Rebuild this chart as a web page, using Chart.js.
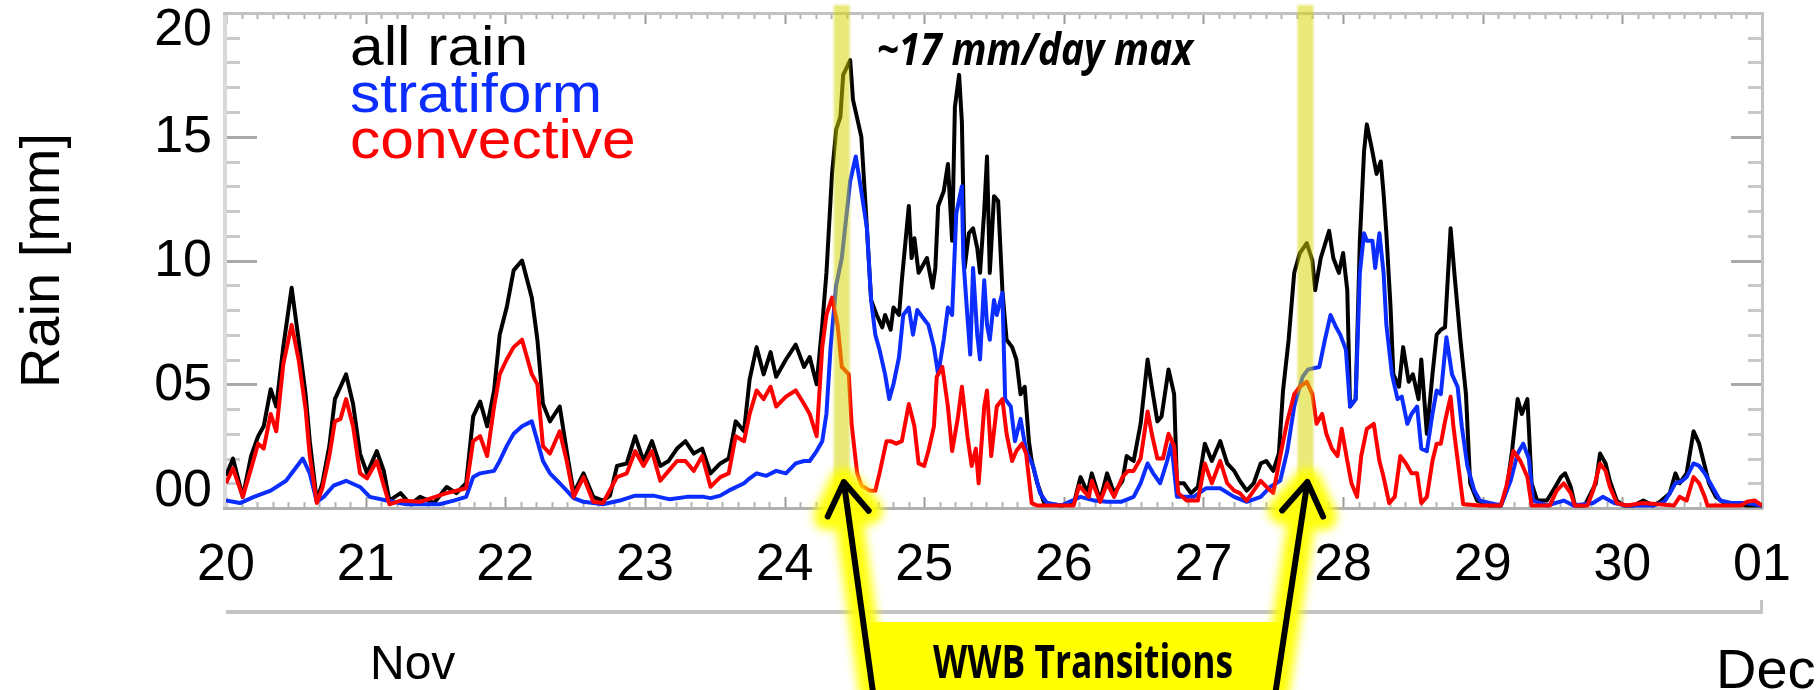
<!DOCTYPE html>
<html>
<head>
<meta charset="utf-8">
<title>Rain rate, Nov 20 – Dec 01</title>
<script src="https://cdn.jsdelivr.net/npm/chart.js@4.4.1/dist/chart.umd.min.js"></script>
<style>
  html, body { margin: 0; padding: 0; background: #ffffff; overflow: hidden; }
  canvas { display: block; }
</style>
</head>
<body>
<canvas id="rain" width="1818" height="690"></canvas>
<script>
// Time axis is day of November (31 = Dec 01); rain in mm.
const allRainDay = [20.00,20.05,20.12,20.18,20.23,20.27,20.32,20.36,20.41,20.47,20.52,20.57,20.60,20.65,20.69,20.74,20.78,20.82,20.86,20.91,20.96,21.01,21.08,21.13,21.17,21.25,21.32,21.39,21.49,21.58,21.65,21.72,21.77,21.82,21.87,21.92,21.96,22.01,22.06,22.12,22.19,22.23,22.27,22.32,22.39,22.44,22.49,22.56,22.63,22.70,22.75,22.80,22.87,22.93,22.99,23.05,23.11,23.17,23.23,23.29,23.35,23.41,23.47,23.54,23.60,23.65,23.71,23.75,23.80,23.85,23.90,23.94,24.01,24.08,24.14,24.18,24.23,24.27,24.30,24.34,24.37,24.40,24.42,24.47,24.49,24.53,24.55,24.59,24.62,24.66,24.70,24.72,24.76,24.78,24.82,24.84,24.89,24.91,24.93,24.96,24.98,25.02,25.06,25.08,25.10,25.14,25.17,25.20,25.22,25.25,25.27,25.29,25.32,25.35,25.38,25.40,25.43,25.45,25.47,25.50,25.53,25.56,25.59,25.63,25.66,25.69,25.72,25.75,25.77,25.81,25.86,25.98,26.07,26.12,26.17,26.20,26.26,26.31,26.36,26.42,26.45,26.50,26.55,26.60,26.63,26.67,26.70,26.75,26.79,26.81,26.86,26.91,26.96,27.01,27.06,27.12,27.17,27.22,27.26,27.31,27.36,27.41,27.45,27.50,27.54,27.57,27.61,27.65,27.69,27.74,27.78,27.80,27.84,27.90,27.93,27.97,28.00,28.03,28.05,28.09,28.12,28.15,28.17,28.21,28.24,28.27,28.29,28.31,28.34,28.36,28.40,28.43,28.47,28.50,28.54,28.56,28.60,28.64,28.67,28.70,28.73,28.77,28.80,28.84,28.88,28.91,28.96,29.05,29.13,29.17,29.21,29.25,29.28,29.32,29.35,29.39,29.46,29.52,29.56,29.59,29.63,29.66,29.73,29.81,29.84,29.88,29.91,29.96,30.01,30.08,30.15,30.22,30.27,30.34,30.38,30.41,30.46,30.51,30.55,30.59,30.62,30.67,30.73,30.80,30.89,31.00];
const allRainMm = [1.3,2.0,0.45,2.1,2.9,3.3,4.8,4.1,6.5,8.9,6.8,4.6,2.7,0.3,1.0,2.5,4.4,4.9,5.4,4.2,2.2,1.4,2.3,1.5,0.3,0.6,0.15,0.45,0.2,0.85,0.6,1.0,3.7,4.3,3.3,4.75,7.0,8.1,9.6,10.0,8.5,6.8,4.2,3.5,4.1,2.3,0.6,1.4,0.45,0.3,0.5,1.7,1.8,2.9,1.9,2.7,1.7,1.9,2.4,2.7,2.2,2.4,1.4,1.8,2.0,3.5,3.1,5.2,6.5,5.4,6.3,5.3,6.0,6.6,5.7,6.1,5.0,7.4,9.5,13.5,15.3,15.8,17.5,18.1,16.5,15.5,15.0,11.3,8.4,7.8,7.3,7.8,7.2,8.1,7.8,9.2,12.2,10.1,10.9,9.5,9.7,10.1,8.9,9.7,12.2,12.8,13.9,10.8,16.2,17.5,15.6,9.7,11.1,11.3,10.5,9.5,12.0,14.2,9.5,12.6,12.4,8.8,6.8,6.5,6.0,4.6,4.9,2.7,1.9,1.0,0.2,0.1,0.15,1.25,0.6,1.4,0.3,1.4,0.6,1.1,2.1,1.9,3.4,6.0,4.9,3.5,3.7,5.6,4.6,1.0,1.0,0.6,0.85,2.6,1.9,2.7,1.8,1.5,1.1,0.7,1.0,1.8,1.9,1.5,2.2,4.75,6.8,9.5,10.3,10.7,10.0,8.8,10.1,11.2,10.1,9.5,10.3,8.8,4.1,4.4,10.8,14.4,15.5,14.4,13.5,14.0,12.7,11.1,8.1,5.4,4.9,6.5,5.1,5.4,4.4,6.0,3.0,5.4,7.0,7.2,7.3,11.3,9.3,6.8,4.6,1.0,0.3,0.1,0.1,0.7,2.3,4.4,3.8,4.4,1.0,0.3,0.3,0.86,1.25,1.4,0.86,0.1,0.1,1.0,2.2,1.8,1.1,0.3,0.1,0.1,0.3,0.1,0.25,0.6,1.4,1.0,1.4,3.1,2.6,1.7,1.0,0.45,0.2,0.2,0.1,0.1];

const stratiformDay = [20.00,20.10,20.20,20.32,20.43,20.55,20.60,20.65,20.70,20.77,20.86,20.96,21.03,21.15,21.29,21.53,21.63,21.72,21.77,21.82,21.92,21.96,22.01,22.06,22.12,22.19,22.27,22.32,22.39,22.44,22.49,22.56,22.70,22.82,22.93,23.06,23.18,23.30,23.42,23.47,23.54,23.60,23.71,23.75,23.80,23.87,23.94,24.01,24.08,24.14,24.18,24.23,24.27,24.30,24.33,24.37,24.41,24.47,24.51,24.55,24.59,24.62,24.65,24.68,24.72,24.75,24.78,24.82,24.85,24.89,24.92,24.95,24.99,25.03,25.07,25.10,25.14,25.17,25.20,25.23,25.27,25.28,25.31,25.33,25.35,25.38,25.40,25.43,25.45,25.47,25.50,25.52,25.56,25.58,25.62,25.65,25.69,25.73,25.78,25.83,25.88,25.98,26.12,26.22,26.31,26.41,26.50,26.55,26.60,26.64,26.69,26.74,26.77,26.81,26.93,27.02,27.12,27.22,27.31,27.41,27.48,27.55,27.60,27.65,27.71,27.75,27.83,27.87,27.91,27.95,27.98,28.02,28.05,28.09,28.12,28.15,28.17,28.21,28.23,28.26,28.29,28.31,28.35,28.39,28.42,28.46,28.49,28.53,28.56,28.60,28.64,28.67,28.70,28.74,28.78,28.82,28.85,28.89,28.94,28.98,29.05,29.13,29.20,29.25,29.29,29.33,29.36,29.46,29.58,29.65,29.79,29.86,29.94,30.03,30.22,30.30,30.34,30.38,30.43,30.46,30.51,30.55,30.59,30.62,30.66,30.70,30.78,30.89,31.00];
const stratiformMm = [0.3,0.2,0.45,0.7,1.1,2.0,1.4,0.25,0.45,0.9,1.1,0.85,0.45,0.3,0.15,0.15,0.3,0.45,1.25,1.4,1.5,1.9,2.5,3.0,3.3,3.5,1.9,1.4,1.0,0.7,0.4,0.25,0.15,0.3,0.5,0.5,0.35,0.45,0.45,0.4,0.5,0.7,1.0,1.2,1.4,1.3,1.5,1.4,1.8,1.9,1.9,2.3,2.7,3.8,6.5,9.0,10.1,13.2,14.2,12.8,11.3,8.4,7.0,6.4,5.4,4.4,5.0,6.1,7.8,8.1,7.0,8.0,7.7,7.4,6.5,5.4,6.8,8.1,7.8,11.9,13.0,10.1,7.7,6.2,9.7,7.0,6.0,9.2,7.4,6.8,8.4,7.8,8.7,4.4,4.1,2.7,3.6,2.3,1.7,0.6,0.2,0.1,0.45,0.3,0.25,0.25,0.45,1.0,1.8,1.4,1.0,1.9,2.6,0.45,0.45,0.8,0.8,0.45,0.25,0.45,0.86,1.1,2.3,4.1,5.3,5.6,5.7,6.8,7.8,7.3,7.0,6.4,4.1,4.4,9.5,11.1,10.8,10.8,9.7,11.1,9.5,7.4,5.4,4.4,4.5,3.4,3.8,4.1,2.4,2.3,3.8,4.75,4.6,6.9,5.4,4.9,3.3,1.7,0.7,0.3,0.2,0.1,1.1,2.2,2.6,2.0,0.3,0.1,0.3,0.1,0.2,0.45,0.2,0.1,0.1,0.25,0.6,1.0,1.1,1.25,1.8,1.7,1.4,1.1,0.7,0.3,0.2,0.2,0.1];

const convectiveDay = [20.00,20.05,20.12,20.18,20.23,20.27,20.32,20.36,20.41,20.47,20.52,20.57,20.60,20.65,20.69,20.74,20.78,20.82,20.86,20.91,20.96,21.01,21.08,21.13,21.17,21.25,21.39,21.58,21.72,21.77,21.82,21.87,21.92,21.96,22.01,22.06,22.12,22.19,22.23,22.27,22.32,22.39,22.44,22.49,22.56,22.63,22.70,22.80,22.87,22.93,22.99,23.05,23.11,23.17,23.23,23.29,23.35,23.41,23.47,23.54,23.60,23.65,23.71,23.75,23.80,23.85,23.90,23.94,24.01,24.08,24.14,24.18,24.23,24.27,24.30,24.34,24.38,24.41,24.46,24.48,24.52,24.55,24.61,24.65,24.68,24.73,24.76,24.80,24.84,24.89,24.93,24.96,25.00,25.03,25.07,25.09,25.13,25.17,25.20,25.24,25.27,25.31,25.34,25.37,25.39,25.43,25.45,25.48,25.52,25.56,25.59,25.63,25.66,25.70,25.73,25.77,25.81,26.07,26.11,26.18,26.20,26.26,26.31,26.36,26.42,26.46,26.50,26.55,26.60,26.63,26.67,26.71,26.75,26.79,26.82,26.88,26.96,27.01,27.06,27.12,27.17,27.22,27.26,27.31,27.36,27.41,27.45,27.50,27.55,27.60,27.65,27.69,27.74,27.78,27.81,27.85,27.88,27.92,27.96,27.99,28.03,28.06,28.10,28.13,28.17,28.22,28.26,28.29,28.33,28.37,28.41,28.45,28.49,28.53,28.56,28.60,28.64,28.67,28.70,28.73,28.77,28.79,28.83,28.86,28.98,29.13,29.17,29.22,29.27,29.32,29.35,29.48,29.53,29.58,29.63,29.66,29.75,29.79,29.84,29.88,29.91,29.96,30.03,30.15,30.37,30.41,30.46,30.51,30.55,30.59,30.61,30.85,30.89,30.95,31.00];
const convectiveMm = [1.0,1.6,0.45,1.6,2.6,2.4,3.8,3.1,5.8,7.4,6.0,4.0,2.1,0.2,0.8,2.1,3.5,3.6,4.4,3.3,1.4,1.2,1.9,0.9,0.15,0.3,0.25,0.6,0.8,2.7,2.9,2.1,4.1,5.4,6.0,6.5,6.8,5.4,5.0,2.5,2.2,3.1,1.9,0.45,1.25,0.25,0.2,1.25,1.4,2.3,1.7,2.3,1.1,1.5,1.9,1.9,1.5,2.1,0.86,1.25,1.4,2.9,2.7,3.8,4.75,4.4,4.9,4.1,4.5,4.75,4.2,3.8,2.9,6.5,7.8,8.5,7.4,5.7,5.4,3.4,1.4,0.9,0.7,0.7,1.4,2.7,2.7,2.6,2.7,4.2,3.3,1.8,1.7,2.3,3.3,5.3,5.7,4.1,2.3,3.6,4.9,2.9,1.7,2.4,1.0,4.1,4.75,2.1,4.1,4.4,3.0,1.9,2.3,2.6,2.2,0.2,0.1,0.1,0.9,0.45,1.1,0.25,1.0,0.45,1.25,1.5,1.5,2.0,3.9,3.0,2.0,2.0,3.0,2.5,0.6,0.3,0.3,1.8,1.0,1.9,1.0,0.7,0.6,0.3,0.7,1.1,0.86,0.6,2.1,3.5,4.6,4.9,5.1,4.6,3.4,3.8,3.0,2.4,2.1,3.2,1.9,1.0,0.45,2.1,3.2,3.4,1.9,1.25,0.2,0.45,2.1,1.8,1.4,1.4,0.2,0.45,1.9,2.6,2.6,3.5,4.5,3.3,1.5,0.15,0.1,0.1,0.9,2.3,1.9,1.25,0.1,0.1,0.7,1.0,0.6,0.1,0.1,0.7,1.8,1.5,0.86,0.2,0.1,0.2,0.1,0.45,0.3,1.25,1.0,0.45,0.1,0.1,0.25,0.3,0.1];

const seriesNames  = ['all rain', 'stratiform', 'convective'];
const seriesColors = ['#000000', '#0b2dff', '#ff0000'];

const dayTicks  = [20, 21, 22, 23, 24, 25, 26, 27, 28, 29, 30, 31];
const dayLabels = ['20', '21', '22', '23', '24', '25', '26', '27', '28', '29', '30', '01'];
const rainTicks  = [0, 5, 10, 15, 20];
const rainLabels = ['00', '05', '10', '15', '20'];

// Westerly wind burst transition times (day of November)
const transitionDays = [24.41, 27.73];
// where each arrow's shaft leaves the bottom of the page
const transitionArrowTailDays = [24.635, 27.514];

const maxNoteText = '~17 mm/day max';
const boxText = 'WWB Transitions';

const SANS = '"Liberation Sans", Arial, Helvetica, sans-serif';

function toPoints(days, mm) {
  return days.map((d, i) => ({ x: d, y: mm[i] }));
}

// Fill text stretched or squeezed horizontally by a factor
function stretchText(ctx, text, x, y, sx) {
  ctx.save();
  ctx.translate(x, y);
  ctx.scale(sx, 1);
  ctx.fillText(text, 0, 0);
  ctx.restore();
}

// Fill text so that it spans an exact width
function fitText(ctx, text, x, y, width) {
  stretchText(ctx, text, x, y, width / ctx.measureText(text).width);
}

const framePlugin = {
  id: 'frame',
  beforeDatasetsDraw(chart) {
    const { ctx, chartArea: ca, scales: { x: xs, y: ys } } = chart;
    ctx.save();
    ctx.lineCap = 'butt';

    // y ticks on both sides: every 1 mm, longer every 5 mm
    for (let v = 0; v <= 20; v++) {
      const py = Math.round(ys.getPixelForValue(v)) + 0.5;
      const major = v % 5 === 0;
      const len = major ? 31 : 14;
      ctx.strokeStyle = major ? '#a9a9a9' : '#c9c9c9';
      ctx.lineWidth = 3;
      ctx.beginPath();
      ctx.moveTo(ca.left, py); ctx.lineTo(ca.left + len, py);
      ctx.moveTo(ca.right - len, py); ctx.lineTo(ca.right, py);
      ctx.stroke();
    }
    // x ticks on top and bottom: day marks with 9 subdivisions
    for (let d = dayTicks[0]; d <= dayTicks[dayTicks.length - 1]; d++) {
      for (let k = 0; k < 9; k++) {
        const t = d + k / 9;
        if (t > dayTicks[dayTicks.length - 1]) break;
        const px = Math.round(xs.getPixelForValue(t)) + 0.5;
        const len = k === 0 ? 11 : 6;
        ctx.strokeStyle = k === 0 ? '#9c9c9c' : '#b4b4b4';
        ctx.lineWidth = 2;
        ctx.beginPath();
        ctx.moveTo(px, ca.top); ctx.lineTo(px, ca.top + len);
        ctx.moveTo(px, ca.bottom); ctx.lineTo(px, ca.bottom - len);
        ctx.stroke();
      }
    }
    // frame
    ctx.fillStyle = '#d9d9d9';
    ctx.fillRect(ca.left - 3, ca.top, 4, ca.bottom - ca.top + 2);
    ctx.fillStyle = '#c2c2c2';
    ctx.fillRect(ca.left - 3, ca.top - 1, ca.right - ca.left + 4, 3);
    ctx.fillRect(ca.right - 1, ca.top - 1, 3, ca.bottom - ca.top + 2);
    ctx.fillStyle = '#b0b0b0';
    ctx.fillRect(ca.left - 3, ca.bottom - 1, ca.right - ca.left + 4, 3);
    ctx.restore();
  },
  afterDatasetsDraw(chart) {
    const { ctx, chartArea: ca, scales: { x: xs } } = chart;
    // translucent highlight bands at the transition times
    ctx.save();
    ctx.filter = 'blur(1px)';
    ctx.fillStyle = 'rgba(212, 212, 0, 0.52)';
    transitionDays.forEach(d => {
      const px = xs.getPixelForValue(d);
      ctx.fillRect(px - 8, 5, 16, ca.bottom - 9);
    });
    ctx.restore();
  },
  afterDraw(chart) {
    const { ctx, chartArea: ca, scales: { x: xs, y: ys } } = chart;
    const H = chart.height;
    ctx.save();

    // y tick labels, kept inside the frame at both ends
    ctx.fillStyle = '#000';
    ctx.font = '52px ' + SANS;
    ctx.textAlign = 'right';
    ctx.textBaseline = 'middle';
    rainTicks.forEach((v, i) => {
      let py = ys.getPixelForValue(v);
      py = Math.min(Math.max(py, ca.top + 17), ca.bottom - 17);
      ctx.fillText(rainLabels[i], ca.left - 14, py + 1);
    });

    // y axis title
    ctx.save();
    ctx.translate(59, (ca.top + ca.bottom) / 2);
    ctx.rotate(-Math.PI / 2);
    ctx.font = '56px ' + SANS;
    ctx.textAlign = 'center';
    ctx.textBaseline = 'alphabetic';
    ctx.fillText('Rain [mm]', 0, 0);
    ctx.restore();

    // series key, top left inside the frame
    ctx.font = '56px ' + SANS;
    ctx.textAlign = 'left';
    ctx.textBaseline = 'alphabetic';
    seriesNames.forEach((name, i) => {
      ctx.fillStyle = seriesColors[i];
      stretchText(ctx, name, ca.left + 124, ca.top + 52 + i * 46.5, 1.08);
    });

    // peak note
    ctx.fillStyle = '#000';
    ctx.font = 'italic bold 44px "Open Sans", ' + SANS;
    fitText(ctx, maxNoteText, xs.getPixelForValue(24.66), ys.getPixelForValue(17.9), 316);

    // month line and month names under the day labels
    ctx.fillStyle = '#c4c4c4';
    ctx.fillRect(ca.left, 610, ca.right - ca.left + 1, 4);
    ctx.fillRect(ca.right - 2, 600, 3, 14);
    ctx.fillStyle = '#000';
    ctx.font = '48px ' + SANS;
    ctx.fillText('Nov', 370, 679);
    ctx.font = '56px ' + SANS;
    ctx.fillText('Dec', 1716, 688);

    // arrows from the caption box up to the transition bands
    const tipY = 482;
    const arrows = transitionDays.map((d, i) => {
      const tip = { x: xs.getPixelForValue(d) + 2, y: tipY };
      const tail = { x: xs.getPixelForValue(transitionArrowTailDays[i]), y: H + 4 };
      const ang = Math.atan2(tail.y - tip.y, tail.x - tip.x);
      const arm = 38, spread = 33 * Math.PI / 180;
      return {
        tip, tail,
        a1: { x: tip.x + arm * Math.cos(ang + spread), y: tip.y + arm * Math.sin(ang + spread) },
        a2: { x: tip.x + arm * Math.cos(ang - spread), y: tip.y + arm * Math.sin(ang - spread) }
      };
    });
    const shaftX = (a, y) => a.tip.x + (a.tail.x - a.tip.x) * (y - a.tip.y) / (a.tail.y - a.tip.y);
    const arrowPath = a => {
      ctx.beginPath();
      ctx.moveTo(a.tail.x, a.tail.y); ctx.lineTo(a.tip.x, a.tip.y);
      ctx.moveTo(a.a1.x, a.a1.y); ctx.lineTo(a.tip.x, a.tip.y); ctx.lineTo(a.a2.x, a.a2.y);
    };

    // yellow glow
    ctx.save();
    ctx.filter = 'blur(5px)';
    ctx.strokeStyle = 'rgba(255, 255, 0, 0.95)';
    ctx.lineWidth = 28;
    ctx.lineCap = 'round';
    ctx.lineJoin = 'round';
    arrows.forEach(a => { arrowPath(a); ctx.stroke(); });
    ctx.restore();

    // caption box between the shafts
    const boxTop = 622;
    ctx.fillStyle = '#ffff00';
    ctx.beginPath();
    ctx.moveTo(shaftX(arrows[0], boxTop), boxTop);
    ctx.lineTo(shaftX(arrows[1], boxTop), boxTop);
    ctx.lineTo(shaftX(arrows[1], H), H);
    ctx.lineTo(shaftX(arrows[0], H), H);
    ctx.closePath();
    ctx.fill();

    // black arrows
    ctx.strokeStyle = '#000';
    ctx.lineWidth = 6;
    ctx.lineCap = 'round';
    ctx.lineJoin = 'round';
    arrows.forEach(a => { arrowPath(a); ctx.stroke(); });

    // caption
    ctx.fillStyle = '#000';
    ctx.font = 'bold 46px "Open Sans", ' + SANS;
    ctx.textBaseline = 'alphabetic';
    fitText(ctx, boxText, 933, 678, 300);

    ctx.restore();
  }
};

const datasets = [
  { label: seriesNames[0], data: toPoints(allRainDay, allRainMm), borderColor: seriesColors[0], order: 3 },
  { label: seriesNames[1], data: toPoints(stratiformDay, stratiformMm), borderColor: seriesColors[1], order: 2 },
  { label: seriesNames[2], data: toPoints(convectiveDay, convectiveMm), borderColor: seriesColors[2], order: 1 }
].map(ds => Object.assign(ds, {
  borderWidth: 4,
  pointRadius: 0,
  tension: 0,
  fill: false,
  borderJoinStyle: 'round'
}));

new Chart(document.getElementById('rain').getContext('2d'), {
  type: 'line',
  data: { datasets },
  options: {
    responsive: false,
    animation: false,
    devicePixelRatio: 1,
    parsing: false,
    layout: { padding: { top: 13, right: 56, left: 0, bottom: 0 } },
    plugins: { legend: { display: false }, tooltip: { enabled: false } },
    scales: {
      x: {
        type: 'linear',
        min: dayTicks[0],
        max: dayTicks[dayTicks.length - 1],
        grid: { display: false, drawTicks: false },
        border: { display: false },
        afterBuildTicks: s => { s.ticks = dayTicks.map(v => ({ value: v })); },
        ticks: {
          autoSkip: false,
          maxRotation: 0,
          padding: 26,
          color: '#000',
          font: { family: SANS, size: 52 },
          callback: v => dayLabels[dayTicks.indexOf(v)]
        },
        afterFit: s => { s.height = 182; }
      },
      y: {
        type: 'linear',
        min: 0,
        max: 20,
        grid: { display: false, drawTicks: false },
        border: { display: false },
        ticks: { display: false },
        afterFit: s => { s.width = 226; }
      }
    }
  },
  plugins: [framePlugin]
});
</script>
</body>
</html>
